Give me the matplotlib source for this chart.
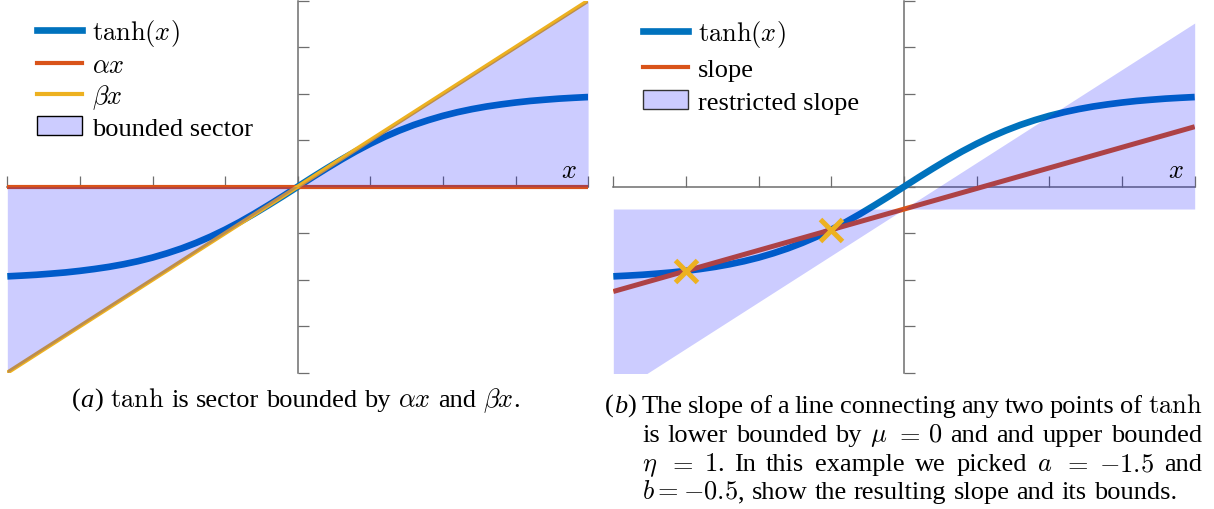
import numpy as np
import matplotlib
matplotlib.use("Agg")
import matplotlib.pyplot as plt
from matplotlib.patches import Patch
from matplotlib.lines import Line2D

plt.rcParams['font.family'] = 'serif'
plt.rcParams['font.serif'] = ['Liberation Serif', 'Times New Roman', 'DejaVu Serif']
plt.rcParams['mathtext.fontset'] = 'cm'

# ---------------- data ----------------
tanh_x = [-2.0, -1.9, -1.8, -1.7, -1.6, -1.5, -1.4, -1.3, -1.2, -1.1, -1.0,
          -0.9, -0.8, -0.7, -0.6, -0.5, -0.4, -0.3, -0.2, -0.1, 0.0,
          0.1, 0.2, 0.3, 0.4, 0.5, 0.6, 0.7, 0.8, 0.9, 1.0,
          1.1, 1.2, 1.3, 1.4, 1.5, 1.6, 1.7, 1.8, 1.9, 2.0]
tanh_y = [-0.964, -0.956, -0.947, -0.935, -0.922, -0.905, -0.885, -0.862, -0.834, -0.801, -0.762,
          -0.716, -0.664, -0.604, -0.537, -0.462, -0.380, -0.291, -0.197, -0.100, 0.000,
          0.100, 0.197, 0.291, 0.380, 0.462, 0.537, 0.604, 0.664, 0.716, 0.762,
          0.801, 0.834, 0.862, 0.885, 0.905, 0.922, 0.935, 0.947, 0.956, 0.964]

line_x = [-2.0, 2.0]
alpha_y = [0.0, 0.0]          # alpha = 0
beta_y = [-2.0, 2.0]          # beta = 1

sector_a_x = [-2.0, 0.0, 2.0]
sector_a_lo = [-2.0, 0.0, 0.0]
sector_a_hi = [0.0, 0.0, 2.0]

slope_y = [-1.127, 0.645]     # line through (a, tanh a) and (b, tanh b)
picked_x = [-1.5, -0.5]
picked_y = [-0.905, -0.462]

sector_b_x = [-2.0, 0.0, 2.0]
sector_b_lo = [-2.24, -0.24, -0.24]
sector_b_hi = [-0.24, -0.24, 1.76]

ticks = [-2.0, -1.5, -1.0, -0.5, 0.0, 0.5, 1.0, 1.5, 2.0]

C_BLUE = '#0072bd'
C_RED = '#d95319'
C_YEL = '#edb120'
C_FILL = (0, 0, 1, 0.2)
C_AX = '#6e6e6e'

W, H = 1214, 510
DPI = 100
fig = plt.figure(figsize=(W / DPI, H / DPI), dpi=DPI)

FS = 19


def make_axes(left_px, right_px):
    top_px, bot_px = 1.7, 373.7
    ax = fig.add_axes([left_px / W, (H - bot_px) / H,
                       (right_px - left_px) / W, (bot_px - top_px) / H])
    ax.set_xlim(-2, 2)
    ax.set_ylim(-2, 2)
    ax.set_facecolor('none')
    for s in ['top', 'right']:
        ax.spines[s].set_visible(False)
    for s in ['left', 'bottom']:
        ax.spines[s].set_position(('data', 0))
        ax.spines[s].set_color(C_AX)
        ax.spines[s].set_linewidth(1.1)
        ax.spines[s].set_zorder(1)
    ax.set_axisbelow(True)
    ax.set_xticks(ticks)
    ax.set_yticks(ticks)
    ax.tick_params(direction='in', length=8, width=0.9, color=C_AX,
                   labelbottom=False, labelleft=False)
    ax.text(1.87, 0.17, r'$x$', fontsize=FS, ha='center', va='center', zorder=5)
    return ax


# ---------------- panel (a) ----------------
ax1 = make_axes(7.3, 588.1)
ax1.plot(tanh_x, tanh_y, color=C_BLUE, lw=4.8, zorder=2, solid_capstyle='butt')
ax1.plot(line_x, alpha_y, color=C_RED, lw=3.0, zorder=2.1, solid_capstyle='butt')
ax1.plot(line_x, beta_y, color=C_YEL, lw=3.0, zorder=2.2, solid_capstyle='butt')
ax1.fill_between(sector_a_x, sector_a_lo, sector_a_hi, color=C_FILL, lw=0, zorder=3)

h1 = [Line2D([], [], color=C_BLUE, lw=4.8),
      Line2D([], [], color=C_RED, lw=3.0),
      Line2D([], [], color=C_YEL, lw=3.0),
      Patch(facecolor='#ccccff', edgecolor='black', lw=1.0)]
l1 = [r'$\tanh(x)$', r'$\alpha x$', r'$\beta x$', 'bounded sector']
ax1.legend(h1, l1, loc='upper left', bbox_to_anchor=(37 / W, 1 - 18 / H),
           bbox_transform=fig.transFigure, frameon=False, fontsize=FS,
           handlelength=1.72, handletextpad=0.36, labelspacing=0.2,
           borderpad=0, borderaxespad=0)

# ---------------- panel (b) ----------------
ax2 = make_axes(613.3, 1194.7)
ax2.plot(tanh_x, tanh_y, color=C_BLUE, lw=4.8, zorder=2, solid_capstyle='butt')
ax2.plot(line_x, slope_y, color=C_RED, lw=3.6, zorder=2.1, solid_capstyle='butt')
ax2.fill_between(sector_b_x, sector_b_lo, sector_b_hi, color=C_FILL, lw=0, zorder=3)
ax2.plot(picked_x, picked_y, ls='none', marker='x', ms=16, mew=3.6,
         color=C_YEL, zorder=4)

h2 = [Line2D([], [], color=C_BLUE, lw=4.8),
      Line2D([], [], color=C_RED, lw=3.0),
      Patch(facecolor='#ccccff', edgecolor='#333333', lw=1.0)]
l2 = [r'$\tanh(x)$', 'slope', 'restricted slope']
ax2.legend(h2, l2, loc='upper left', bbox_to_anchor=(643 / W, 1 - 19 / H),
           bbox_transform=fig.transFigure, frameon=False, fontsize=FS,
           handlelength=1.72, handletextpad=0.36, labelspacing=0.34,
           borderpad=0, borderaxespad=0)

# ---------------- captions ----------------
renderer = fig.canvas.get_renderer()
FS_PX = FS * DPI / 72.0
SPACE = 0.27 * FS_PX


def measure(pieces):
    widths = []
    for txt, style in pieces:
        t = fig.text(0, 0, txt, fontsize=FS, style=style)
        widths.append(t.get_window_extent(renderer).width)
        t.remove()
    return widths


def draw_line(words, x0, y_base, x1=None, center=None):
    wlist = [measure(w) for w in words]
    totals = [sum(w) for w in wlist]
    if x1 is not None and len(words) > 1:
        gap = (x1 - x0 - sum(totals)) / (len(words) - 1)
    else:
        gap = SPACE
    if center is not None:
        full = sum(totals) + gap * (len(words) - 1)
        x0 = center - full / 2
    x = x0
    for w, ws in zip(words, wlist):
        for (txt, style), pw in zip(w, ws):
            fig.text(x / W, 1 - y_base / H, txt, fontsize=FS, style=style,
                     ha='left', va='baseline')
            x += pw
        x += gap


def words_of(s):
    return [[(tok, 'normal')] for tok in s.split(' ')]


N, I = 'normal', 'italic'
cap_a = [[('(', N), ('a', I), (')', N)], [(r'$\mathrm{tanh}$', N)]] + \
    words_of('is sector bounded by') + [[(r'$\alpha x$', N)], [('and', N)],
                                        [(r'$\beta x$', N), ('.', N)]]
draw_line(cap_a, 0, 407, center=296)

b1 = [[('(', N), ('b', I), (')', N)]] + \
    words_of('The slope of a line connecting any two points of') + \
    [[(r'$\mathrm{tanh}$', N)]]
b2 = words_of('is lower bounded by') + [[(r'$\mu$', N)], [(r'$=$', N)], [(r'$0$', N)]] + \
    words_of('and and upper bounded')
b3 = [[(r'$\eta$', N)], [(r'$=$', N)], [(r'$1$', N), ('.', N)]] + \
    words_of('In this example we picked') + \
    [[(r'$a$', N)], [(r'$=$', N)], [(r'$-1.5$', N)], [('and', N)]]
b4 = [[(r'$b=-0.5$', N), (',', N)]] + words_of('show the resulting slope and its bounds.')

draw_line(b1, 605, 413, x1=1202)
draw_line(b2, 642, 442, x1=1202)
draw_line(b3, 642, 471, x1=1202)
draw_line(b4, 642, 499)

fig.savefig('out.png', dpi=DPI)
